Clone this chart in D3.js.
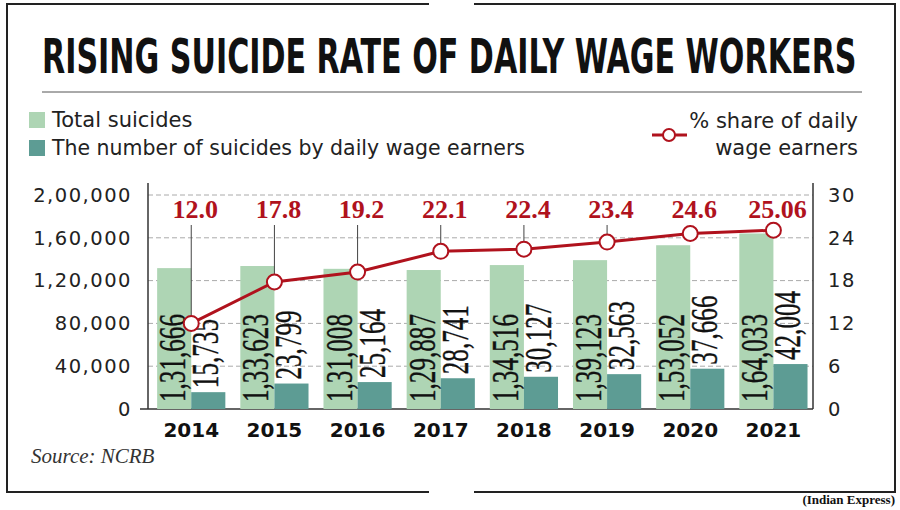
<!DOCTYPE html>
<html>
<head>
<meta charset="utf-8">
<script src="https://cdn.jsdelivr.net/npm/d3@7"></script>
<style>
  body { margin: 0; background: #fff; }
  svg { display: block; }
</style>
</head>
<body>
<svg id="chart" width="900" height="510"></svg>
<script>
var years = ["2014", "2015", "2016", "2017", "2018", "2019", "2020", "2021"];
var totalSuicides = [131666, 133623, 131008, 129887, 134516, 139123, 153052, 164033];
var wageSuicides = [15735, 23799, 25164, 28741, 30127, 32563, 37666, 42004];
var wageShare = [12.0, 17.8, 19.2, 22.1, 22.4, 23.4, 24.6, 25.06];
var shareLabels = ["12.0", "17.8", "19.2", "22.1", "22.4", "23.4", "24.6", "25.06"];
var leftTicks = [0, 40000, 80000, 120000, 160000, 200000];
var rightTicks = [0, 6, 12, 18, 24, 30];

var lightGreen = "#aed5b4",
    teal = "#5d9c94",
    red = "#b0121d",
    axisColor = "#333";

var svg = d3.select("#chart");

var plotLeft = 148, plotRight = 813, plotTop = 195, plotBottom = 409;

var x = d3.scaleBand().domain(years).range([plotLeft, 815])
      .paddingInner(0.18).paddingOuter(0.1).align(0.55),
    xSub = d3.scaleBand().domain(["total", "wage"]).range([0, x.bandwidth()]),
    y = d3.scaleLinear().domain([0, 200000]).range([plotBottom, plotTop]),
    y2 = d3.scaleLinear().domain([0, 30]).range([plotBottom, plotTop]);

// Indian digit grouping, 2,00,000
function indian(n) {
  var s = String(n);
  if (s.length <= 3) return s;
  var last = s.slice(-3), rest = s.slice(0, -3);
  rest = rest.replace(/\B(?=(\d{2})+(?!\d))/g, ",");
  return rest + "," + last;
}

// frame (with the gap top and bottom)
var frame = svg.append("g").attr("stroke", "#222").attr("stroke-width", 2).attr("fill", "none");
frame.append("path").attr("d", "M429,4 H7 V492 H429");
frame.append("path").attr("d", "M474,4 H895 V492 H474");

// title, squeezed to the width of the rule under it
var title = svg.append("text")
  .attr("font-family", "'Liberation Sans Narrow', 'DejaVu Sans Condensed', sans-serif")
  .attr("font-weight", "bold")
  .attr("font-size", 48)
  .attr("fill", "#111")
  .text("RISING SUICIDE RATE OF DAILY WAGE WORKERS");
var tw = title.node().getComputedTextLength();
title.attr("transform", "translate(42,73) scale(" + (815 / tw) + ",1)");

svg.append("line")
  .attr("x1", 42).attr("x2", 862).attr("y1", 92).attr("y2", 92)
  .attr("stroke", "#555").attr("stroke-width", 1);

// legend
var legendFont = "'DejaVu Sans', sans-serif";
var legend = svg.append("g");
[["Total suicides", lightGreen, 127, 0], ["The number of suicides by daily wage earners", teal, 155, 473]]
  .forEach(function(d) {
    legend.append("rect").attr("x", 29).attr("y", d[2] - 15).attr("width", 16).attr("height", 16).attr("fill", d[1]);
    var t = legend.append("text").attr("x", 52).attr("y", d[2])
      .attr("font-family", legendFont).attr("font-size", 21).attr("fill", "#222").text(d[0]);
    if (d[3]) t.attr("textLength", d[3]).attr("lengthAdjust", "spacingAndGlyphs");
  });

legend.append("text").attr("x", 858).attr("y", 128).attr("text-anchor", "end")
  .attr("font-family", legendFont).attr("font-size", 21).attr("fill", "#222").text("% share of daily");
legend.append("text").attr("x", 858).attr("y", 155).attr("text-anchor", "end")
  .attr("font-family", legendFont).attr("font-size", 21).attr("fill", "#222").text("wage earners");
legend.append("line").attr("x1", 652).attr("x2", 687).attr("y1", 135).attr("y2", 135)
  .attr("stroke", red).attr("stroke-width", 3);
legend.append("circle").attr("cx", 669).attr("cy", 135).attr("r", 6)
  .attr("fill", "#fff").attr("stroke", red).attr("stroke-width", 2);

// gridlines
svg.append("g").selectAll("line")
  .data(leftTicks.slice(1))
  .enter().append("line")
  .attr("x1", plotLeft).attr("x2", plotRight)
  .attr("y1", function(d) { return y(d); })
  .attr("y2", function(d) { return y(d); })
  .attr("stroke", "#aaa").attr("stroke-width", 1)
  .attr("stroke-dasharray", "5,3");

// axes
var leftAxis = svg.append("g")
  .attr("transform", "translate(" + plotLeft + ",0)")
  .call(d3.axisLeft(y).tickValues(leftTicks).tickFormat(indian).tickSize(0).tickPadding(16));
var rightAxis = svg.append("g")
  .attr("transform", "translate(" + plotRight + ",0)")
  .call(d3.axisRight(y2).tickValues(rightTicks).tickSize(0).tickPadding(15));
[leftAxis, rightAxis].forEach(function(a) {
  a.select(".domain").attr("stroke", axisColor).attr("stroke-width", 1.5)
    .attr("d", "M0,183V" + plotBottom);
  a.selectAll("text").attr("font-family", legendFont).attr("font-size", 19.5)
    .attr("letter-spacing", 1.5).attr("fill", "#222");
});

var xAxis = svg.append("g")
  .attr("transform", "translate(0," + plotBottom + ")")
  .call(d3.axisBottom(x).tickSize(0).tickPadding(14));
xAxis.select(".domain").attr("stroke", axisColor).attr("stroke-width", 1.5)
  .attr("d", "M140,0H" + plotRight);
xAxis.selectAll("text").attr("font-family", legendFont).attr("font-weight", "bold")
  .attr("font-size", 20).attr("fill", "#111");

// bars
var groups = svg.append("g").selectAll("g")
  .data(years)
  .enter().append("g")
  .attr("transform", function(d) { return "translate(" + x(d) + ",0)"; });

groups.append("rect")
  .attr("x", xSub("total")).attr("width", xSub.bandwidth())
  .attr("y", function(d, i) { return y(totalSuicides[i]); })
  .attr("height", function(d, i) { return plotBottom - y(totalSuicides[i]); })
  .attr("fill", lightGreen);

groups.append("rect")
  .attr("x", xSub("wage")).attr("width", xSub.bandwidth())
  .attr("y", function(d, i) { return y(wageSuicides[i]); })
  .attr("height", function(d, i) { return plotBottom - y(wageSuicides[i]); })
  .attr("fill", teal);

var barFont = "'Liberation Serif', 'DejaVu Serif', serif";
groups.append("text")
  .attr("transform", function(d) {
    return "translate(" + (xSub("total") + xSub.bandwidth() / 2 + 11) + "," + (plotBottom - 7) + ") rotate(-90) scale(0.68,1)";
  })
  .attr("font-family", barFont).attr("font-size", 37).attr("fill", "#111")
  .attr("stroke", "#111").attr("stroke-width", 0.4)
  .text(function(d, i) { return indian(totalSuicides[i]); });

groups.append("text")
  .attr("transform", function(d, i) {
    return "translate(" + (xSub("wage") + xSub.bandwidth() / 2 + 10) + "," + (y(wageSuicides[i]) - 4) + ") rotate(-90) scale(0.68,1)";
  })
  .attr("font-family", barFont).attr("font-size", 37).attr("fill", "#111")
  .attr("stroke", "#111").attr("stroke-width", 0.4)
  .text(function(d, i) { return d3.format(",")(wageSuicides[i]); });

// share line
var cx = function(d, i) { return x(years[i]) + x.bandwidth() / 2; };

svg.append("g").selectAll("line")
  .data(wageShare)
  .enter().append("line")
  .attr("x1", cx).attr("x2", cx)
  .attr("y1", 225)
  .attr("y2", function(d) { return Math.max(225, y2(d) - 7); })
  .attr("stroke", "#444").attr("stroke-width", 1);

svg.append("path")
  .datum(wageShare)
  .attr("fill", "none").attr("stroke", red).attr("stroke-width", 3)
  .attr("d", d3.line().x(cx).y(function(d) { return y2(d); }));

svg.append("g").selectAll("circle")
  .data(wageShare)
  .enter().append("circle")
  .attr("cx", cx).attr("cy", function(d) { return y2(d); })
  .attr("r", 7.5)
  .attr("fill", "#fff").attr("stroke", red).attr("stroke-width", 2);

svg.append("g").selectAll("text")
  .data(shareLabels)
  .enter().append("text")
  .attr("x", function(d, i) { return cx(d, i) + 4; })
  .attr("y", 218)
  .attr("text-anchor", "middle")
  .attr("font-family", barFont).attr("font-weight", "bold")
  .attr("font-size", 26).attr("fill", red)
  .text(function(d) { return d; });

// source and credit
svg.append("text").attr("x", 31).attr("y", 463)
  .attr("font-family", barFont).attr("font-style", "italic")
  .attr("font-size", 21).attr("fill", "#333").text("Source: NCRB");

svg.append("text").attr("x", 895).attr("y", 504).attr("text-anchor", "end")
  .attr("font-family", barFont).attr("font-weight", "bold")
  .attr("font-size", 13).attr("fill", "#111").text("(Indian Express)");
</script>
</body>
</html>
